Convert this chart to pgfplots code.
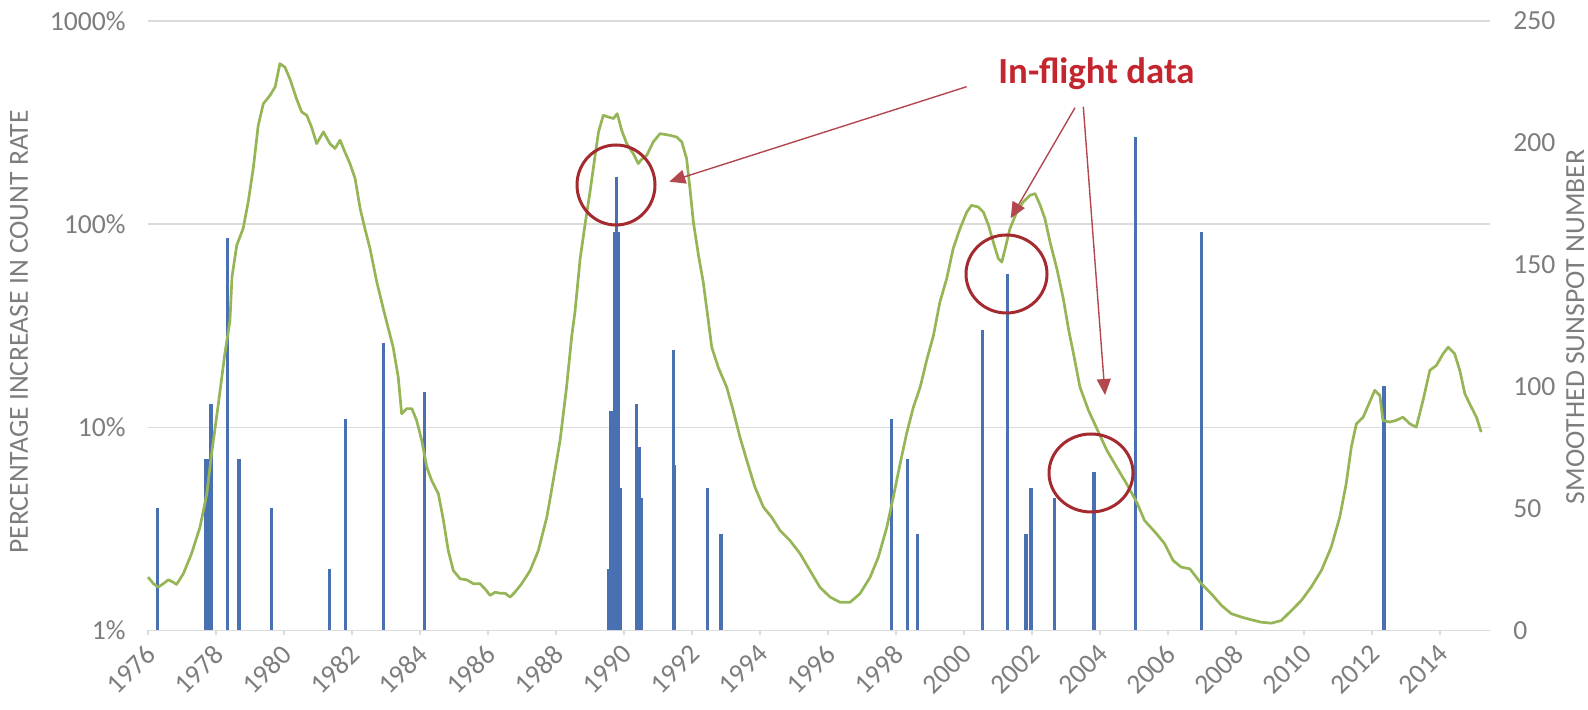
\documentclass[border=0pt]{standalone}
\usepackage{pgfplots}
\pgfplotsset{compat=1.18}
\usetikzlibrary{arrows.meta}
\usepackage{fontspec}
\setmainfont{Carlito}

\definecolor{gridgray}{RGB}{219,219,219}
\definecolor{labelgray}{RGB}{125,125,125}
\definecolor{barblue}{RGB}{72,112,178}
\definecolor{ssgreen}{RGB}{150,181,86}
\definecolor{annotred}{RGB}{196,38,48}
\definecolor{circred}{RGB}{165,42,48}
\definecolor{arrred}{RGB}{178,72,78}

\pgfplotstableread{
year pct
1976.28 4
1977.70 7
1977.78 7
1977.85 13
1978.34 85
1978.68 7
1979.64 4
1981.33 2
1981.80 11
1982.92 26
1984.13 15
1989.55 2
1989.60 12
1989.65 12
1989.72 92
1989.78 170
1989.84 92
1989.90 5
1990.37 13
1990.45 8
1990.50 4.5
1991.45 24
1991.49 6.5
1992.46 5
1992.85 3
1997.87 11
1998.33 7
1998.64 3
2000.55 30
2001.28 57
2001.82 3
2001.97 5
2002.66 4.5
2003.82 6
2005.05 268
2006.98 92
2012.35 16
}\bartable

\pgfplotstableread{
year ssn
1976.00 21.9
1976.16 19.2
1976.30 17.8
1976.45 19.2
1976.60 20.8
1976.74 19.8
1976.84 18.9
1977.04 23.3
1977.28 31.5
1977.53 42.4
1977.73 56.1
1977.87 72.5
1978.07 93.0
1978.26 113.5
1978.41 127.0
1978.47 145.0
1978.61 158.0
1978.80 165.0
1978.95 176.0
1979.10 190.0
1979.24 207.0
1979.39 216.0
1979.59 219.5
1979.74 223.0
1979.88 232.5
1980.03 231.0
1980.18 226.0
1980.37 218.0
1980.52 212.7
1980.67 211.3
1980.81 206.5
1980.96 199.7
1981.16 204.5
1981.35 199.7
1981.50 197.7
1981.65 201.1
1981.79 196.3
1981.94 191.5
1982.09 185.4
1982.24 173.0
1982.38 164.8
1982.53 156.6
1982.73 142.9
1982.92 132.0
1983.07 123.8
1983.21 116.2
1983.36 103.9
1983.46 88.9
1983.61 91.0
1983.76 91.0
1983.90 86.2
1984.05 78.0
1984.20 67.0
1984.34 61.6
1984.54 56.1
1984.69 45.1
1984.83 32.8
1984.98 24.6
1985.18 21.2
1985.37 20.8
1985.57 19.2
1985.76 19.2
1985.91 17.1
1986.06 14.4
1986.21 15.7
1986.35 15.3
1986.50 15.3
1986.65 13.7
1986.79 15.7
1986.99 19.2
1987.24 24.6
1987.48 32.8
1987.73 46.5
1987.92 61.6
1988.12 78.0
1988.31 99.8
1988.46 120.4
1988.56 131.0
1988.71 152.5
1988.85 166.2
1989.00 179.9
1989.15 194.9
1989.25 204.5
1989.39 211.3
1989.54 210.6
1989.69 210.0
1989.80 212.0
1989.93 205.2
1990.08 199.7
1990.27 195.6
1990.42 191.5
1990.50 193.0
1990.67 194.9
1990.86 200.4
1991.06 203.8
1991.35 203.1
1991.55 202.4
1991.70 200.4
1991.84 193.6
1991.94 181.2
1992.04 167.5
1992.19 153.9
1992.33 142.9
1992.48 127.0
1992.58 116.2
1992.77 108.0
1993.02 99.8
1993.21 90.3
1993.41 79.3
1993.61 69.8
1993.85 58.8
1994.10 50.6
1994.34 46.5
1994.59 41.0
1994.88 36.9
1995.18 31.5
1995.47 24.6
1995.76 17.8
1996.06 13.7
1996.35 11.6
1996.65 11.6
1996.94 15.1
1997.24 21.9
1997.48 30.1
1997.73 42.4
1997.92 54.7
1998.12 68.4
1998.31 80.7
1998.51 91.6
1998.71 99.8
1998.90 110.8
1999.10 121.0
1999.29 134.7
1999.49 144.3
1999.68 156.6
1999.88 164.8
2000.08 171.6
2000.22 174.4
2000.42 173.7
2000.57 171.6
2000.72 166.2
2000.86 159.3
2001.01 152.5
2001.11 151.1
2001.21 156.6
2001.35 164.8
2001.55 171.6
2001.74 175.8
2001.94 178.5
2002.09 179.2
2002.24 174.4
2002.38 168.9
2002.53 159.3
2002.73 148.4
2002.92 136.1
2003.07 123.8
2003.22 113.5
2003.41 99.8
2003.66 90.3
2003.90 83.0
2004.20 73.9
2004.49 67.0
2004.78 60.2
2005.08 52.6
2005.31 45.1
2005.66 39.7
2005.90 35.6
2006.15 28.7
2006.39 26.0
2006.64 25.3
2006.98 19.2
2007.27 15.1
2007.57 10.3
2007.86 6.9
2008.16 5.5
2008.45 4.4
2008.74 3.4
2009.04 3.0
2009.33 4.1
2009.63 8.2
2009.92 12.3
2010.21 17.8
2010.51 24.6
2010.80 34.2
2011.05 46.5
2011.24 60.2
2011.39 75.2
2011.54 84.8
2011.74 87.5
2011.93 93.7
2012.08 98.5
2012.23 96.4
2012.32 86.2
2012.52 85.5
2012.71 86.2
2012.91 87.5
2013.11 84.8
2013.30 83.4
2013.50 94.4
2013.70 106.7
2013.89 108.7
2014.09 113.5
2014.24 116.2
2014.43 113.5
2014.58 106.7
2014.73 97.1
2014.92 91.6
2015.07 87.5
2015.21 81.4
}\ssntable

\begin{document}
\begin{tikzpicture}
\pgfplotsset{
  every tick label/.append style={font=\fontsize{13.8}{16}\selectfont, text=labelgray},
}
\begin{axis}[
  at={(0pt,0pt)}, anchor=south west, scale only axis,
  width=671pt, height=304.75pt,
  xmin=1976, xmax=2015.47,
  ymode=log, ymin=1, ymax=1000,
  axis x line*=bottom, axis y line*=left,
  x axis line style={draw=gridgray, line width=0.8pt, -},
  y axis line style={draw=none},
  xtick={1976,1978,...,2014},
  ytick={1,10,100,1000},
  yticklabels={1\%,10\%,100\%,1000\%},
  ymajorgrids, grid style={draw=gridgray, line width=0.8pt},
  tick align=outside, major tick length=2.5pt,
  xtick style={draw=gridgray, line width=0.8pt},
  ytick style={draw=none},
  /pgf/number format/1000 sep={},
  /pgf/number format/assume math mode=true,
  xticklabel style={yshift=-7pt, xshift=1.5pt, rotate=45, anchor=east, inner sep=0pt},
  yticklabel style={inner sep=0pt, xshift=-8.5pt},
  clip=false,
]
\addplot[ycomb, draw=barblue, line width=1.7pt] table[x=year, y=pct] {\bartable};
\node[rotate=90, font=\fontsize{13.8}{16}\selectfont, text=labelgray] at (axis description cs:-0.0961,0.49) {PERCENTAGE INCREASE IN COUNT RATE};
\end{axis}
\begin{axis}[
  at={(0pt,0pt)}, anchor=south west, scale only axis,
  width=671pt, height=304.75pt,
  xmin=1976, xmax=2015.47,
  ymin=0, ymax=250,
  axis x line=none, axis y line*=right,
  y axis line style={draw=none},
  ytick={0,50,...,250},
  ytick style={draw=none},
  /pgf/number format/assume math mode=true,
  yticklabel style={inner sep=0pt, xshift=11.5pt},
  clip=false,
]
\addplot[draw=ssgreen, line width=1.35pt, line join=round] table[x=year, y=ssn] {\ssntable};
\node[rotate=90, font=\fontsize{13.8}{16}\selectfont, text=labelgray] at (axis description cs:1.0635,0.498) {SMOOTHED SUNSPOT NUMBER};
\end{axis}
% annotations
\draw[circred, line width=1.5pt] (234pt,222.75pt) ellipse [x radius=19.5pt, y radius=20pt];
\draw[circred, line width=1.5pt] (429.25pt,178.25pt) ellipse [x radius=20.25pt, y radius=19.5pt];
\draw[circred, line width=1.5pt] (471.5pt,78.75pt) ellipse [x radius=21pt, y radius=19.5pt];
\draw[arrred, line width=0.7pt, -{Triangle[length=8pt,width=7pt]}] (409.35pt,271.9pt) -- (260.65pt,224.4pt);
\draw[arrred, line width=0.7pt, -{Triangle[length=8pt,width=7pt]}] (463.5pt,261.4pt) -- (431.35pt,206.1pt);
\draw[arrred, line width=0.7pt, -{Triangle[length=8pt,width=7pt]}] (467.65pt,261.9pt) -- (478.5pt,117.75pt);
\node[anchor=base west, inner sep=0pt, text=annotred, font=\fontsize{18.4}{22}\selectfont\bfseries] at (425pt,273.25pt) {In-flight data};
\pgfresetboundingbox
\path (-74pt,-39.75pt) rectangle (720pt,315.25pt);
\end{tikzpicture}
\end{document}
